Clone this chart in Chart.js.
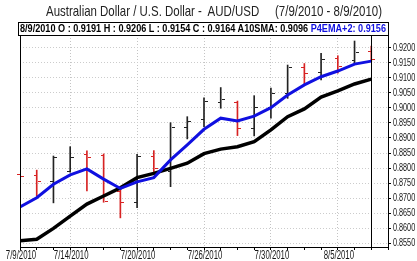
<!DOCTYPE html>
<html><head><meta charset="utf-8">
<script src="https://cdn.jsdelivr.net/npm/chart.js@4.4.1/dist/chart.umd.min.js"></script>
<style>
html,body{margin:0;padding:0;background:#fff;width:417px;height:261px;overflow:hidden;}
#wrap{position:relative;width:417px;height:261px;}
canvas{position:absolute;left:0;top:0;}
#title{position:absolute;left:46px;top:2px;font:15px "Liberation Sans",Arial,sans-serif;color:#222;white-space:pre;line-height:18px;display:inline-block;transform-origin:0 0;}
#hdr{position:absolute;left:18px;top:22px;width:371px;height:14px;border:1px solid #000;box-sizing:border-box;background:#fff;}
#hdrText{position:absolute;left:1px;top:0px;font:bold 10px "Liberation Sans",Arial,sans-serif;line-height:12px;white-space:pre;color:#000;display:inline-block;transform-origin:0 0;}
#hdrText span{color:#1010e0;}
</style>
</head><body>
<div id="wrap">
<canvas id="c" width="417" height="261"></canvas>
<div id="title">Australian Dollar / U.S. Dollar -  AUD/USD     (7/9/2010 - 8/9/2010)</div>
<div id="hdr"><div id="hdrText">8/9/2010 O : 0.9191 H : 0.9206 L : 0.9154 C : 0.9164 A10SMA: 0.9096 <span>P4EMA+2: 0.9156</span></div></div>
</div>
<script>
const dates = ['7/9/2010','7/12/2010','7/13/2010','7/14/2010','7/15/2010','7/16/2010','7/19/2010','7/20/2010','7/21/2010','7/22/2010','7/23/2010','7/26/2010','7/27/2010','7/28/2010','7/29/2010','7/30/2010','8/2/2010','8/3/2010','8/4/2010','8/5/2010','8/6/2010','8/9/2010'];
const labeledDates = ['7/9/2010','7/14/2010','7/20/2010','7/26/2010','7/30/2010','8/5/2010'];
const opens  = [0.8780,0.8778,0.8758,0.8790,0.8848,0.8845,0.8722,0.8686,0.8840,0.8790,0.8935,0.8962,0.9020,0.9020,0.8932,0.9002,0.9050,0.9138,0.9120,0.9165,0.9160,0.9191];
const highs  = [0.8792,0.8793,0.8840,0.8871,0.8857,0.8847,0.8734,0.8846,0.8858,0.8951,0.8971,0.9034,0.9068,0.9023,0.9041,0.9066,0.9143,0.9148,0.9182,0.9174,0.9223,0.9206];
const lows   = [0.8758,0.8707,0.8684,0.8786,0.8724,0.8686,0.8634,0.8668,0.8788,0.8738,0.8897,0.8938,0.8999,0.8908,0.8907,0.8966,0.9032,0.9077,0.9093,0.9116,0.9149,0.9154];
const closes = [0.8773,0.8757,0.8838,0.8838,0.8838,0.8690,0.8686,0.8841,0.8800,0.8935,0.8958,0.9023,0.9030,0.8934,0.9004,0.9049,0.9138,0.9118,0.9163,0.9140,0.9188,0.9164];
const sma10  = [0.8558,0.8563,0.8599,0.8640,0.8680,0.8707,0.8734,0.8768,0.8782,0.8799,0.8816,0.8848,0.8863,0.8871,0.8888,0.8927,0.8971,0.8997,0.9036,0.9057,0.9080,0.9096];
const ema4p2 = [0.8670,0.8701,0.8746,0.8777,0.8797,0.8763,0.8732,0.8754,0.8768,0.8827,0.8877,0.8929,0.8966,0.8957,0.8973,0.9001,0.9043,0.9077,0.9104,0.9123,0.9146,0.9156];
const yTickValues = [0.8550,0.8600,0.8650,0.8700,0.8750,0.8800,0.8850,0.8900,0.8950,0.9000,0.9050,0.9100,0.9150,0.9200];

function fitWidth(el, target){
  const w = el.getBoundingClientRect().width;
  if (w > 0) el.style.transform = 'scaleX(' + (target / w) + ')';
}
fitWidth(document.getElementById('title'), 336);
fitWidth(document.getElementById('hdrText'), 366);

const RED = 'rgb(215,35,35)', DARK = '#222';
const FONT = '"Liberation Sans", Arial, sans-serif';
const barColors = closes.map((c,i)=> c < opens[i] ? RED : DARK);

function squeezedText(ctx, text, x, y, sx, align){
  ctx.save();
  ctx.translate(x, y);
  ctx.scale(sx, 1);
  ctx.textAlign = align;
  ctx.fillText(text, 0, 0);
  ctx.restore();
}

const ohlcPlugin = {
  id:'ohlc',
  afterDatasetDraw(chart, args){
    const {ctx, scales:{x,y}} = chart;
    if (args.index === 2) {
      ctx.save();
      ctx.lineWidth = 1;
      opens.forEach((o,i)=>{
        const px = Math.round(x.getPixelForValue(i));
        const yo = Math.round(y.getPixelForValue(o))+0.5;
        const yc = Math.round(y.getPixelForValue(closes[i]))+0.5;
        ctx.strokeStyle = barColors[i];
        ctx.beginPath();
        ctx.moveTo(px-3, yo); ctx.lineTo(px, yo);
        ctx.moveTo(px+1, yc); ctx.lineTo(px+4, yc);
        ctx.stroke();
      });
      ctx.restore();
    }
  },
  afterDatasetsDraw(chart){
    const {ctx, scales:{x}, chartArea:a} = chart;
    ctx.save();
    ctx.strokeStyle = '#000'; ctx.lineWidth = 1;
    ctx.beginPath();
    ctx.moveTo(a.left+0.5, a.top-1); ctx.lineTo(a.left+0.5, a.bottom);
    const cx = Math.round(x.getPixelForValue(dates.length-1))+0.5;
    ctx.moveTo(cx, a.top-1); ctx.lineTo(cx, a.bottom);
    ctx.stroke();
    ctx.restore();
  },
  afterDraw(chart){
    const {ctx, scales:{x,y}, chartArea:a} = chart;
    ctx.save();
    ctx.fillStyle = '#151515';
    ctx.textBaseline = 'middle';
    ctx.font = '10.5px ' + FONT;
    yTickValues.forEach(v=>{
      squeezedText(ctx, v.toFixed(4), a.right + 5, Math.round(y.getPixelForValue(v)), 0.69, 'left');
    });
    ctx.font = '12px ' + FONT;
    labeledDates.forEach(d=>{
      const i = dates.indexOf(d);
      squeezedText(ctx, d, x.getPixelForValue(i) + 1, a.bottom + 8.5, 0.65, 'center');
    });
    ctx.restore();
  }
};

new Chart(document.getElementById('c'), {
  type:'line',
  data:{
    datasets:[
      {type:'line', label:'P4EMA+2', data: ema4p2.map((v,i)=>({x:i,y:v})), borderColor:'#1010e0', borderWidth:3, pointRadius:0, tension:0, order:0},
      {type:'line', label:'A10SMA', data: sma10.map((v,i)=>({x:i,y:v})), borderColor:'#000', borderWidth:3.5, pointRadius:0, tension:0, order:1},
      {type:'bar', label:'OHLC', data: highs.map((h,i)=>({x:i,y:[lows[i],h]})), backgroundColor: barColors, barThickness:1, order:2}
    ]
  },
  options:{
    animation:false, responsive:false, devicePixelRatio:1,
    layout:{padding:{left:20, top:35, right:0, bottom:0}},
    plugins:{legend:{display:false}, tooltip:{enabled:false}, title:{display:false}},
    scales:{
      x:{
        type:'linear', min:0, max:22, offset:false,
        afterFit(s){ s.height = 14; },
        ticks:{display:false, stepSize:1, autoSkip:false},
        grid:{offset:false, drawTicks:true, tickLength:3, tickColor:'#000', tickBorderDash:[],
          color:(c)=> (c.tick && labeledDates.includes(dates[c.tick.value])) ? '#c4c4c4' : 'rgba(0,0,0,0)'},
        border:{display:true, color:'#000', width:1, dash:[1,2]}
      },
      y:{
        position:'right', min:0.8537, max:0.9243,
        afterFit(s){ s.width = 29; },
        afterBuildTicks(s){ s.ticks = yTickValues.map(v=>({value:v})); },
        ticks:{display:false},
        grid:{color:'#cccccc', drawTicks:true, tickLength:3, tickColor:'#000', tickBorderDash:[]},
        border:{display:true, color:'#000', width:1, dash:[1,2]}
      }
    }
  },
  plugins:[ohlcPlugin]
});
</script>
</body></html>
